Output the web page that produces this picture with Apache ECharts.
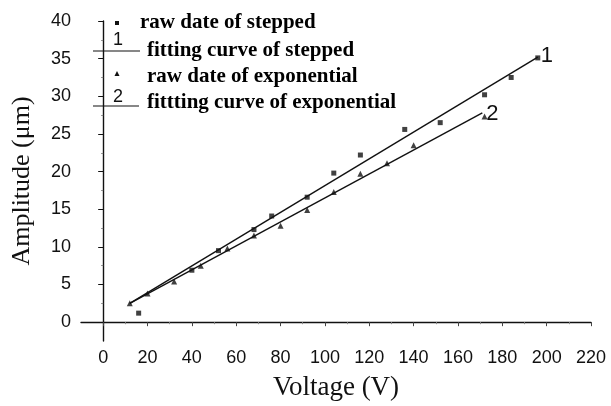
<!DOCTYPE html>
<html>
<head>
<meta charset="utf-8">
<script src="https://cdn.jsdelivr.net/npm/echarts@6/dist/echarts.min.js"></script>
<style>
  html, body { margin: 0; padding: 0; background: #fff; }
  #chart { width: 611px; height: 406px; }
</style>
</head>
<body>
<div id="chart"></div>
<script>
// raw points
var steppedV = [16, 40, 52, 68, 76, 92, 104, 116, 136, 152, 172, 184, 196];
var steppedA = [1.2, 6.9, 9.5, 12.3, 14.1, 16.6, 19.8, 22.2, 25.6, 26.5, 30.2, 32.5, 35.1];
var expoV = [12, 20, 32, 44, 56, 68, 80, 92, 104, 116, 128, 140, 172];
var expoA = [2.5, 3.8, 5.4, 7.5, 9.8, 11.5, 12.8, 14.9, 17.3, 19.7, 21.1, 23.5, 27.3];
// fitted lines (end points)
var fitSteppedV = [12, 196];
var fitSteppedA = [2.5, 35.2];
var fitExpoV = [12, 171];
var fitExpoA = [2.5, 27.8];
// ticks
var xLabels = [0, 20, 40, 60, 80, 100, 120, 140, 160, 180, 200, 220];
var xMinor = [10, 30, 50, 70, 90, 110, 130, 150, 170, 190, 210];
var yLabels = [0, 5, 10, 15, 20, 25, 30, 35, 40];
var yMinor = [2.5, 7.5, 12.5, 17.5, 22.5, 27.5, 32.5, 37.5];

function zip(a, b) {
    return a.map(function (v, i) { return [v, b[i]]; });
}

var ink = '#111';
var serif = '"Liberation Serif", "Times New Roman", serif';
var sans = '"Liberation Sans", Arial, sans-serif';

var myChart = echarts.init(document.getElementById('chart'));

option = {
    animation: false,
    backgroundColor: '#fff',
    grid: { left: 81, right: 20, top: 21, bottom: 63 },
    xAxis: [{
        type: 'value', min: -10, max: 220,
        name: 'Voltage (V)', nameLocation: 'middle', nameGap: 33,
        nameTextStyle: { fontFamily: serif, fontSize: 27, color: ink },
        axisLine: { lineStyle: { color: ink, width: 1.4 } },
        axisTick: { length: 4, lineStyle: { color: '#444' }, customValues: xLabels },
        axisLabel: { customValues: xLabels, fontFamily: sans, fontSize: 18, color: ink, margin: 8 },
        splitLine: { show: false }
    }, {
        type: 'value', min: -10, max: 220, position: 'bottom',
        axisLine: { show: false },
        axisTick: { length: 2, lineStyle: { color: '#888' }, customValues: xMinor },
        axisLabel: { show: false },
        splitLine: { show: false }
    }],
    yAxis: [{
        type: 'value', min: -2.5, max: 40,
        name: 'Amplitude (\u03bcm)', nameLocation: 'middle', nameGap: 46,
        nameTextStyle: { fontFamily: serif, fontSize: 26, color: ink },
        axisLine: { show: true, lineStyle: { color: ink, width: 1.4 } },
        axisTick: { show: true, length: 5, lineStyle: { color: ink }, customValues: yLabels },
        axisLabel: { customValues: yLabels, fontFamily: sans, fontSize: 18, color: ink, margin: 10 },
        splitLine: { show: false }
    }, {
        type: 'value', min: -2.5, max: 40, position: 'left',
        axisLine: { show: false },
        axisTick: { show: true, length: 2, lineStyle: { color: '#888' }, customValues: yMinor },
        axisLabel: { show: false },
        splitLine: { show: false }
    }],
    series: [{
        name: 'raw date of stepped',
        type: 'scatter',
        symbol: 'rect', symbolSize: 5,
        itemStyle: { color: ink },
        data: zip(steppedV, steppedA)
    }, {
        name: 'fitting curve of stepped',
        type: 'line',
        showSymbol: false,
        lineStyle: { color: ink, width: 1.4 },
        endLabel: { show: true, formatter: '1', fontFamily: sans, fontSize: 22, color: ink, distance: 3, offset: [0, -1] },
        data: zip(fitSteppedV, fitSteppedA)
    }, {
        name: 'raw date of exponential',
        type: 'scatter',
        symbol: 'triangle', symbolSize: 6,
        itemStyle: { color: ink },
        data: zip(expoV, expoA)
    }, {
        name: 'fittting curve of exponential',
        type: 'line',
        showSymbol: false,
        lineStyle: { color: ink, width: 1.4 },
        endLabel: { show: true, formatter: '2', fontFamily: sans, fontSize: 22, color: ink, distance: 4, offset: [0, 1] },
        data: zip(fitExpoV, fitExpoA)
    }],
    graphic: [
        // legend
        { type: 'rect', shape: { x: 115, y: 21, width: 4, height: 4 }, style: { fill: ink } },
        { type: 'text', x: 140, y: 23, style: { text: 'raw date of stepped', font: 'bold 21px ' + serif, fill: '#000', verticalAlign: 'middle' } },
        { type: 'line', shape: { x1: 93, y1: 51, x2: 140, y2: 51 }, style: { stroke: ink, lineWidth: 1.2 } },
        { type: 'text', x: 118, y: 40, style: { text: '1', font: '18px ' + sans, fill: ink, align: 'center', verticalAlign: 'middle' } },
        { type: 'text', x: 147, y: 51, style: { text: 'fitting curve of stepped', font: 'bold 21px ' + serif, fill: '#000', verticalAlign: 'middle' } },
        { type: 'polygon', shape: { points: [[117, 71], [114.5, 76], [119.5, 76]] }, style: { fill: ink } },
        { type: 'text', x: 147, y: 77, style: { text: 'raw date of exponential', font: 'bold 21px ' + serif, fill: '#000', verticalAlign: 'middle' } },
        { type: 'line', shape: { x1: 93, y1: 106, x2: 139, y2: 106 }, style: { stroke: ink, lineWidth: 1.2 } },
        { type: 'text', x: 118, y: 97, style: { text: '2', font: '18px ' + sans, fill: ink, align: 'center', verticalAlign: 'middle' } },
        { type: 'text', x: 147, y: 103, style: { text: 'fittting curve of exponential', font: 'bold 21px ' + serif, fill: '#000', verticalAlign: 'middle' } }
    ]
};

myChart.setOption(option, true);
</script>
</body>
</html>
